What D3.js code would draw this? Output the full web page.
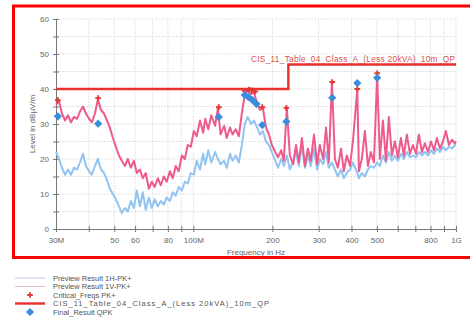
<!DOCTYPE html>
<html>
<head>
<meta charset="utf-8">
<script src="https://cdn.jsdelivr.net/npm/d3@7"></script>
<style>
  body { margin: 0; background: #fff; }
  svg { display: block; font-family: "Liberation Sans", Arial, sans-serif; }
</style>
</head>
<body>
<svg id="chart" width="470" height="324"></svg>
<script>
// sweep frequencies (MHz), shared by both preview traces
const freqs = [
  30.0, 30.8, 31.6, 32.5, 33.3, 34.2, 35.1, 36.1, 37.0, 38.0,
  39.0, 40.1, 41.1, 42.2, 43.3, 44.5, 45.7, 46.9, 48.1, 49.4,
  50.7, 52.1, 53.4, 54.9, 56.3, 57.8, 59.4, 60.9, 62.6, 64.2,
  65.9, 67.7, 69.5, 71.3, 73.2, 75.2, 77.2, 79.2, 81.4, 83.5,
  85.7, 88.0, 90.4, 92.8, 95.2, 97.8, 100.4, 103, 106, 109,
  111, 114, 117, 121, 124, 127, 131, 134, 138, 141,
  145, 149, 153, 157, 161, 166, 170, 175, 179, 184,
  189, 194, 199, 205, 210, 216, 221, 227, 233, 240,
  246, 252, 259, 266, 273, 280, 288, 296, 303, 312,
  320, 328, 337, 346, 355, 365, 374, 384, 395, 405,
  421, 427, 438, 450, 462, 474, 487, 501, 513, 527,
  541, 555, 570, 585, 601, 617, 633, 650, 668, 685,
  704, 722, 742, 761, 782, 803, 824, 846, 869, 892,
  915, 940, 965, 991, 1000
];
// Preview Result 1H-PK+ (dBµV/m)
const levelH = [
  22, 20, 17.5, 15.5, 17, 15.5, 17.5, 17, 19, 21.5,
  18, 16.5, 15.5, 18, 20, 17, 16, 14, 11.5, 10,
  8.5, 6.5, 4.5, 6, 5, 8, 6, 11, 6.5, 10.5,
  5.5, 9, 6, 8.5, 6.5, 8, 7, 9, 8, 10.5,
  9.5, 12, 11, 13.5, 13, 16, 15.5, 19.5, 17, 21.5,
  18.5, 22.5, 19, 22, 20, 18.5, 19.5, 17.5, 21.5, 19.5,
  21, 19, 24, 30, 32, 30, 31, 29, 27, 28,
  25, 24, 22, 19.5, 17.5, 20, 18, 21, 17, 19.5,
  22, 18, 24, 17.5, 21, 18, 23, 17, 20, 18.5,
  22, 17.5, 19, 17, 15, 17, 14.5, 16, 17, 19,
  16, 14.5, 16, 15, 17, 18, 17.5, 19, 18, 21,
  19, 22, 19.5, 21, 19.5, 21.5, 20, 22, 20.5, 21,
  20.5, 22, 21, 22, 21, 22.5, 21.5, 23, 22, 23.5,
  22.5, 23.5, 23, 24, 24
];
// Preview Result 1V-PK+ (dBµV/m)
const levelV = [
  35.5, 36.5, 33, 31, 32.5, 30.5, 32, 31.5, 33.5, 35,
  33, 31.5, 30.5, 33, 37, 34, 33, 31, 29, 26,
  23.5, 21, 19.5, 18, 20, 17.5, 19.5, 16, 17, 14.5,
  16, 11.5, 13.5, 12, 14.5, 12.5, 15, 13.5, 16.5, 14.5,
  18, 16.5, 21, 20, 24, 23.5, 28, 26.5, 31, 27.5,
  31.5, 28.5, 32.5, 29.5, 34.5, 27, 29.5, 26, 29, 27,
  28.5, 26.5, 33, 38.5, 39.5, 38.5, 39, 36, 34, 34.5,
  29, 27, 24, 22, 20.5, 22.5, 19.5, 34.5, 21, 18.5,
  24, 19, 26, 18, 23, 19.5, 27, 18.5, 24, 20,
  29, 19, 42, 20, 17.5, 23, 16.5, 21, 18, 25,
  40, 16.5, 20, 28, 18, 22, 19, 44, 20, 31,
  19.5, 32, 21, 25, 20.5, 26, 21, 27, 21.5, 24,
  21.5, 27, 22, 24.5, 22, 25, 22.5, 26, 23, 25,
  28, 24, 25.5, 24.5, 25
];
// Critical_Freqs PK+
const critFreq = [30.5, 43.4, 125, 157, 163, 167, 172, 183, 226, 338, 421, 501];
const critLevel = [36.8, 37.4, 34.8, 39.5, 39.8, 39.6, 39.3, 34.8, 34.6, 42, 40, 44.5];
// Final_Result QPK
const finalFreq = [30.5, 43.4, 125, 157, 162, 168, 174, 183, 226, 338, 421, 501];
const finalLevel = [32.2, 30.1, 32, 38.3, 37.7, 36.8, 35.7, 29.7, 30.7, 37.5, 41.7, 43.2];
// limit line CIS_11 class A 10m QP
const limitFreq = [30, 230, 230, 1000];
const limitLevel = [40, 40, 47, 47];

const xTicks = [30, 40, 50, 60, 70, 80, 90, 100, 200, 300, 400, 500, 600, 700, 800, 900, 1000];
const xLabelFreq = [30, 50, 60, 80, 100, 200, 300, 400, 500, 800, 1000];
const xLabelText = ["30M", "50", "60", "80", "100M", "200", "300", "400", "500", "800", "1G"];
const yTicks = [0, 5, 10, 15, 20, 25, 30, 35, 40, 45, 50, 55, 60];
const yLabels = [0, 10, 20, 30, 40, 50, 60];

const legendNames = [
  "Preview Result 1H-PK+",
  "Preview Result 1V-PK+",
  "Critical_Freqs PK+",
  "CIS_11_Table_04_Class_A_(Less 20kVA)_10m_QP",
  "Final_Result QPK"
];

const colH = "#92c4f2", colV = "#ee5a8c", colLimit = "#e8302c", colCrit = "#e53935", colFinal = "#3a8ddb";

const svg = d3.select("#chart");
const x = d3.scaleLog().domain([30, 1000]).range([56, 456]);
const y = d3.scaleLinear().domain([0, 60]).range([229, 19]);

// grid
const grid = svg.append("g").attr("stroke", "#dcdcdc").attr("stroke-width", 0.8).attr("stroke-dasharray", "2,1");
grid.selectAll(".vg").data(xTicks.slice(1)).join("line")
  .attr("x1", d => x(d)).attr("x2", d => x(d))
  .attr("y1", y(0)).attr("y2", y(60));
grid.selectAll(".hg").data(yTicks.slice(1)).join("line")
  .attr("x1", x(30)).attr("x2", x(1000))
  .attr("y1", d => y(d)).attr("y2", d => y(d));

// axes
const xAxis = svg.append("g")
  .attr("transform", "translate(0," + y(0) + ")")
  .call(d3.axisBottom(x).tickValues(xTicks).tickSizeInner(3).tickSizeOuter(0).tickPadding(5)
    .tickFormat(d => { const i = xLabelFreq.indexOf(d); return i < 0 ? "" : xLabelText[i]; }));
xAxis.selectAll(".tick line").attr("y1", -3);
const yAxis = svg.append("g")
  .attr("transform", "translate(" + x(30) + ",0)")
  .call(d3.axisLeft(y).tickValues(yTicks).tickSizeInner(3).tickSizeOuter(0).tickPadding(4)
    .tickFormat(d => yLabels.includes(d) ? d : ""));
yAxis.selectAll(".tick line").attr("x1", 3);
svg.selectAll(".domain, .tick line").attr("stroke", "#777");
svg.selectAll(".tick text").attr("fill", "#666").attr("font-size", 8).attr("font-family", "Liberation Sans, Arial, sans-serif");

// axis titles
svg.append("text").attr("x", 256).attr("y", 255).attr("text-anchor", "middle")
  .attr("font-size", 8).attr("fill", "#666").text("Frequency in Hz");
svg.append("text").attr("transform", "translate(35,124) rotate(-90)").attr("text-anchor", "middle")
  .attr("font-size", 8).attr("fill", "#666").text("Level in dBµV/m");

// traces
const line = d3.line().x(d => x(d[0])).y(d => y(d[1]));
svg.append("path").datum(d3.zip(freqs, levelH))
  .attr("d", line).attr("fill", "none").attr("stroke", colH).attr("stroke-width", 2)
  .attr("stroke-linejoin", "round");
svg.append("path").datum(d3.zip(freqs, levelV))
  .attr("d", line).attr("fill", "none").attr("stroke", colV).attr("stroke-width", 2)
  .attr("stroke-linejoin", "round");

// limit line
svg.append("path").datum(d3.zip(limitFreq, limitLevel))
  .attr("d", line).attr("fill", "none").attr("stroke", colLimit).attr("stroke-width", 2.4);
svg.append("text").attr("x", x(1000) - 1).attr("y", y(47) - 3).attr("text-anchor", "end")
  .attr("font-size", 8.3).attr("fill", "#d9534f")
  .attr("textLength", 204).attr("lengthAdjust", "spacing").text(legendNames[3]);

// critical freqs
const cross = d3.symbol(d3.symbolCross, 18);
svg.selectAll(".crit").data(d3.zip(critFreq, critLevel)).join("path")
  .attr("d", cross).attr("fill", colCrit)
  .attr("transform", d => "translate(" + x(d[0]) + "," + y(d[1]) + ")");

// final result diamonds
const diamond = d3.symbol(d3.symbolSquare, 34);
svg.selectAll(".fin").data(d3.zip(finalFreq, finalLevel)).join("path")
  .attr("d", diamond).attr("fill", colFinal)
  .attr("transform", d => "translate(" + x(d[0]) + "," + y(d[1]) + ") rotate(45)");

// red frame
svg.append("rect").attr("x", 13.5).attr("y", 6).attr("width", 470).attr("height", 251.5)
  .attr("fill", "none").attr("stroke", "#ff0000").attr("stroke-width", 3);

// legend
const lg = svg.append("g").attr("font-size", 7.5).attr("fill", "#555");
const rowY = i => 278 + i * 8.5;
lg.selectAll("text").data(legendNames).join("text")
  .attr("x", 53).attr("y", (d, i) => rowY(i)).attr("dy", "0.35em").text(d => d)
  .filter((d, i) => i === 3).attr("textLength", 216).attr("lengthAdjust", "spacing");
lg.append("line").attr("x1", 15).attr("x2", 45).attr("y1", rowY(0)).attr("y2", rowY(0))
  .attr("stroke", "#c4c8ec").attr("stroke-width", 1);
lg.append("line").attr("x1", 15).attr("x2", 45).attr("y1", rowY(1)).attr("y2", rowY(1))
  .attr("stroke", "#e8bcc8").attr("stroke-width", 1);
lg.append("path").attr("d", cross).attr("fill", colCrit).attr("transform", "translate(30," + rowY(2) + ")");
lg.append("line").attr("x1", 15).attr("x2", 45).attr("y1", rowY(3)).attr("y2", rowY(3))
  .attr("stroke", colLimit).attr("stroke-width", 2.4);
lg.append("path").attr("d", diamond).attr("fill", colFinal).attr("transform", "translate(30," + rowY(4) + ") rotate(45)");
</script>
</body>
</html>
